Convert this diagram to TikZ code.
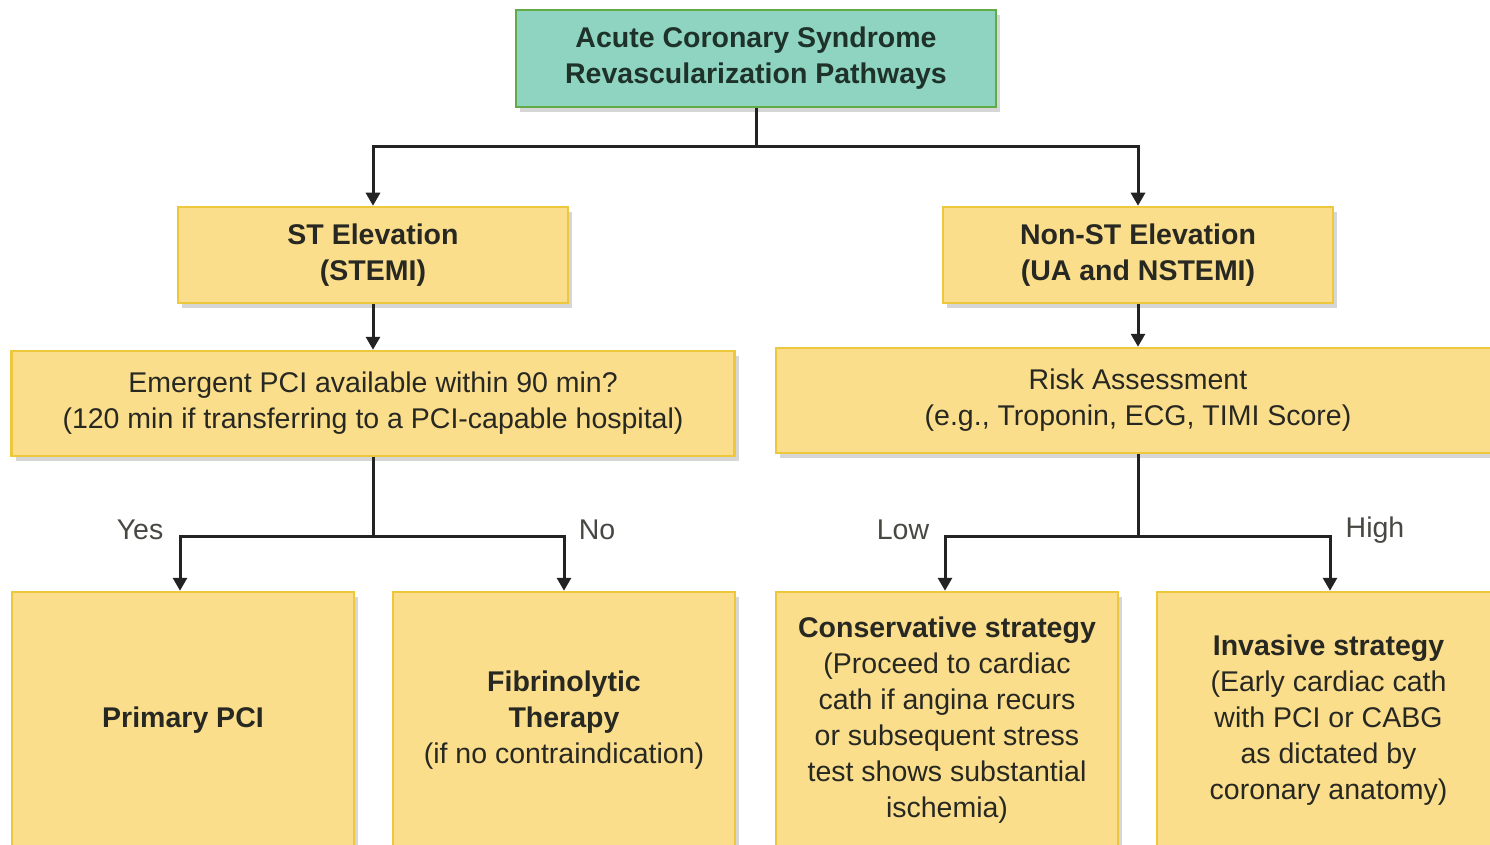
\documentclass[tikz,border=0pt]{standalone}
\usepackage{fontspec}
\setmainfont{Liberation Sans}
\usetikzlibrary{shadows,arrows.meta}
\definecolor{boxfill}{RGB}{250,222,140}
\definecolor{boxline}{RGB}{238,200,60}
\definecolor{topfill}{RGB}{142,212,192}
\definecolor{topline}{RGB}{98,172,72}
\definecolor{txt}{RGB}{40,40,34}
\definecolor{toptxt}{RGB}{30,50,42}
\definecolor{wire}{RGB}{35,35,35}
\tikzset{
  base/.style={rectangle, draw, line width=2.5pt, text=txt, align=center, inner sep=0pt,
    font=\fontsize{28.5}{36}\selectfont,
    drop shadow={shadow xshift=4pt, shadow yshift=-5pt, opacity=0.16, fill=black}},
  ybox/.style={base, fill=boxfill, draw=boxline},
  tbox/.style={base, fill=topfill, draw=topline, text=toptxt},
  arr/.style={draw=wire, line width=3pt, -{Triangle[length=13pt,width=14pt]}},
  wireline/.style={draw=wire, line width=3pt},
  lbl/.style={text=txt!85!white, font=\fontsize{28.5}{36}\selectfont, inner sep=0pt}
}
\begin{document}
\begin{tikzpicture}[x=1pt,y=-1pt]
\useasboundingbox (0,0) rectangle (1490,845);
\clip (0,0) rectangle (1490,845);
\fill[white] (0,0) rectangle (1490,845);
% boxes
\node[tbox, minimum width=480pt, minimum height=97pt] (top) at (756,58.5)
  {\bfseries Acute Coronary Syndrome\\\bfseries Revascularization Pathways};
\node[ybox, minimum width=390pt, minimum height=96pt] (st) at (373,255)
  {\bfseries ST Elevation\\\bfseries (STEMI)};
\node[ybox, minimum width=390pt, minimum height=96pt] (nst) at (1138,255)
  {\bfseries Non-ST Elevation\\\bfseries (UA and NSTEMI)};
\node[ybox, minimum width=723pt, minimum height=105pt] (emer) at (373,403.5)
  {Emergent PCI available within 90 min?\\(120 min if transferring to a PCI-capable hospital)};
\node[ybox, minimum width=724pt, minimum height=105pt] (risk) at (1138,400.5)
  {Risk Assessment\\(e.g., Troponin, ECG, TIMI Score)};
\node[ybox, minimum width=342pt, minimum height=257pt] (ppci) at (183,720.5)
  {\bfseries Primary PCI};
\node[ybox, minimum width=342pt, minimum height=257pt] (fib) at (564,720.5)
  {\bfseries Fibrinolytic\\\bfseries Therapy\\(if no contraindication)};
\node[ybox, minimum width=342pt, minimum height=257pt] (cons) at (947,720.5)
  {\bfseries Conservative strategy\\(Proceed to cardiac\\cath if angina recurs\\or subsequent stress\\test shows substantial\\ischemia)};
\node[ybox, minimum width=343pt, minimum height=257pt] (inv) at (1328.5,720.5)
  {\bfseries Invasive strategy\\(Early cardiac cath\\with PCI or CABG\\as dictated by\\coronary anatomy)};
% connectors
\coordinate (j1) at (756,147);
\draw[wireline] (top.south) -- (j1);
\draw[arr] (j1) -| (st.north);
\draw[arr] (j1) -| (nst.north);
\draw[arr] (st.south) -- (emer.north);
\draw[arr] (nst.south) -- (risk.north);
\coordinate (j2) at (373,536);
\draw[wireline] (emer.south) -- (j2);
\draw[arr] (j2) -| ([xshift=-3pt]ppci.north);
\draw[arr] (j2) -| (fib.north);
\coordinate (j3) at (1138,536);
\draw[wireline] (risk.south) -- (j3);
\draw[arr] (j3) -| ([xshift=-2pt]cons.north);
\draw[arr] (j3) -| ([xshift=1.5pt]inv.north);
% labels
\node[lbl] (yes) at (140,530) {Yes};
\node[lbl] (no) at (597,530) {No};
\node[lbl] (low) at (903,530) {Low};
\node[lbl] (high) at (1375,530) {High};
\end{tikzpicture}
\end{document}
